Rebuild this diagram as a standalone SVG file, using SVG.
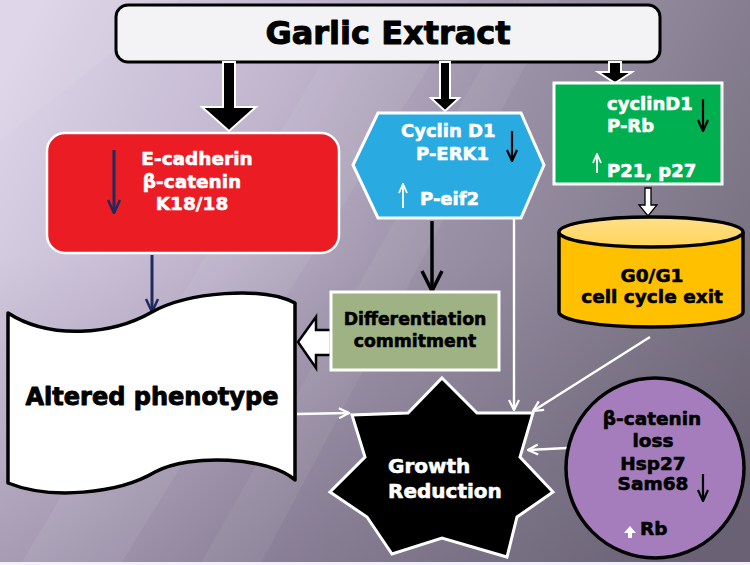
<svg xmlns="http://www.w3.org/2000/svg" width="750" height="565" viewBox="0 0 750 565">
<defs>
<linearGradient id="bg" gradientUnits="userSpaceOnUse" x1="0" y1="80" x2="750" y2="460">
<stop offset="0" stop-color="#ddd4e8"/>
<stop offset="0.3" stop-color="#c0b5cd"/>
<stop offset="0.55" stop-color="#9b91a7"/>
<stop offset="0.8" stop-color="#817a8b"/>
<stop offset="1" stop-color="#6f6878"/>
</linearGradient>
<linearGradient id="shade" x1="0" y1="0" x2="0" y2="1">
<stop offset="0.45" stop-color="#5a4f68" stop-opacity="0"/>
<stop offset="1" stop-color="#5a4f68" stop-opacity="0.28"/>
</linearGradient>
<linearGradient id="cap" x1="0" y1="0" x2="0" y2="1">
<stop offset="0" stop-color="#ffe08a"/>
<stop offset="1" stop-color="#ffd45a"/>
</linearGradient>
<marker id="wv" viewBox="0 0 12 12" refX="11" refY="6" markerWidth="12" markerHeight="12" markerUnits="userSpaceOnUse" orient="auto">
<path d="M1,1 L11,6 L1,11" fill="none" stroke="#fff" stroke-width="2.2"/>
</marker>
<marker id="bv" viewBox="0 0 24 24" refX="22" refY="12" markerWidth="24" markerHeight="24" markerUnits="userSpaceOnUse" orient="auto">
<path d="M2,2 L22,12 L2,22" fill="none" stroke="#000" stroke-width="3.5"/>
</marker>
<marker id="bvs" viewBox="0 0 14 14" refX="13" refY="7" markerWidth="14" markerHeight="14" markerUnits="userSpaceOnUse" orient="auto">
<path d="M2,2 L13,7 L2,12" fill="none" stroke="#000" stroke-width="2.2"/>
</marker>
<marker id="wvs" viewBox="0 0 12 12" refX="11" refY="6" markerWidth="12" markerHeight="12" markerUnits="userSpaceOnUse" orient="auto">
<path d="M2,2 L11,6 L2,10" fill="none" stroke="#fff" stroke-width="1.8"/>
</marker>
<marker id="nv" viewBox="0 0 16 16" refX="15" refY="8" markerWidth="16" markerHeight="16" markerUnits="userSpaceOnUse" orient="auto">
<path d="M2,2 L15,8 L2,14" fill="none" stroke="#1f2a5e" stroke-width="2.5"/>
</marker>
<style>
.t{font-family:"DejaVu Sans","Liberation Sans",Arial,sans-serif;font-weight:bold;stroke-width:0.6;stroke-linejoin:round}
.w{fill:#fff;stroke:#fff}
.k{fill:#000;stroke:#000}
.wl{stroke:#fff;stroke-width:2.4;fill:none}
</style>
</defs>

<rect x="0" y="0" width="750" height="565" fill="url(#bg)"/>
<rect x="0" y="0" width="750" height="565" fill="url(#shade)"/>
<polygon points="360,0 470,0 120,565 20,565" fill="#fff" opacity="0.07"/>
<polygon points="520,0 560,0 260,565 200,565" fill="#fff" opacity="0.06"/>
<polygon points="0,0 180,0 0,140" fill="#fff" opacity="0.06"/>
<rect x="0" y="562" width="750" height="3" fill="#f4f2f6"/>

<g id="garlic">
<rect x="116" y="5" width="544" height="57" rx="12" fill="#f3f3f5" stroke="#000" stroke-width="3"/>
<text class="t k" x="388" y="44" font-size="32" text-anchor="middle" style="stroke-width:1">Garlic Extract</text>
</g>

<g id="connectors">
<polygon points="223,62 235,62 235,107 256,107 229,131 202,107 223,107" fill="#000" stroke="#fff" stroke-width="2"/>
<polygon points="440,62 450,62 450,98 459,98 445,111 431,98 440,98" fill="#000" stroke="#fff" stroke-width="2"/>
<polygon points="609,62 621,62 621,72 632,72 615,83 598,72 609,72" fill="#000" stroke="#fff" stroke-width="2"/>
<line x1="152" y1="255" x2="152" y2="312" stroke="#1f2a5e" stroke-width="3" marker-end="url(#nv)"/>
<line x1="432" y1="221" x2="432" y2="291" stroke="#000" stroke-width="3.5" marker-end="url(#bv)"/>
<polygon points="645,188 651,188 651,205 657,205 648,216 639,205 645,205" fill="#fff" stroke="#000" stroke-width="1.3"/>
<polygon points="298,342 316,317 316,330 331,330 331,355 316,355 316,368" fill="#fff" stroke="#000" stroke-width="2.5"/>
<line x1="514" y1="218" x2="514" y2="410" class="wl" marker-end="url(#wv)"/>
<line x1="650" y1="337" x2="533" y2="411" class="wl" marker-end="url(#wv)"/>
<line x1="297" y1="414" x2="349" y2="413" class="wl" marker-end="url(#wv)"/>
<line x1="567" y1="448" x2="528" y2="450" class="wl" marker-end="url(#wv)"/>
</g>

<g id="red">
<rect x="47" y="133" width="292" height="120" rx="18" fill="#ec1c24" stroke="#fff" stroke-width="2.5"/>
<line x1="114" y1="150" x2="114" y2="213" stroke="#1f2a5e" stroke-width="3" marker-end="url(#nv)"/>
<text class="t w" font-size="18.5" text-anchor="middle"><tspan x="197" y="165">E-cadherin</tspan><tspan x="192" y="188">β-catenin</tspan><tspan x="192" y="210">K18/18</tspan></text>
</g>

<g id="hexagon">
<polygon points="353,165 378,113 521,113 544,165 521,218 378,218" fill="#29abe2" stroke="#fff" stroke-width="3"/>
<text class="t w" font-size="18"><tspan x="401" y="137">Cyclin D1</tspan><tspan x="416" y="160">P-ERK1</tspan><tspan x="420" y="205">P-eif2</tspan></text>
<line x1="512" y1="131" x2="512" y2="161" stroke="#000" stroke-width="2.2" marker-end="url(#bvs)"/>
<line x1="403" y1="208" x2="403" y2="184" stroke="#fff" stroke-width="1.8" marker-end="url(#wvs)"/>
</g>

<g id="green">
<rect x="554" y="83" width="168" height="101" fill="#00b050" stroke="#fff" stroke-width="3"/>
<text class="t w" font-size="18"><tspan x="607" y="110">cyclinD1</tspan><tspan x="607" y="132">P-Rb</tspan><tspan x="607" y="177">P21, p27</tspan></text>
<line x1="703" y1="99" x2="703" y2="131" stroke="#000" stroke-width="2.2" marker-end="url(#bvs)"/>
<line x1="597" y1="173" x2="597" y2="154" stroke="#fff" stroke-width="1.8" marker-end="url(#wvs)"/>
</g>

<g id="cylinder">
<path d="M559,232 L559,312 A92,15 0 0 0 743,312 L743,232" fill="#ffc000" stroke="#000" stroke-width="3.5"/>
<ellipse cx="651" cy="232" rx="92" ry="15" fill="url(#cap)" stroke="#000" stroke-width="3.5"/>
<text class="t k" font-size="18.5" text-anchor="middle"><tspan x="652" y="282">G0/G1</tspan><tspan x="652" y="303">cell cycle exit</tspan></text>
</g>

<g id="differentiation">
<rect x="331" y="292" width="168" height="78" fill="#9fb283" stroke="#fff" stroke-width="3"/>
<text class="t k" font-size="17.3" text-anchor="middle"><tspan x="415" y="325">Differentiation</tspan><tspan x="415" y="347">commitment</tspan></text>
</g>

<g id="phenotype">
<path d="M8,313 C50,340 112,335 152,312 C188,292 262,286 295,303 L295,480 C270,457 190,453 155,472 C118,494 50,500 8,483 Z" fill="#fff" stroke="#000" stroke-width="3.5" stroke-linejoin="round"/>
<text class="t k" x="152" y="405" font-size="24" text-anchor="middle" style="stroke-width:0.9">Altered phenotype</text>
</g>

<g id="star">
<polygon points="442,378 477,413 533,413 520,457 553,492 517,517 507,557 442,538 392,554 367,517 330,492 365,457 352,415 408,413" fill="#000" stroke="#fff" stroke-width="3" stroke-linejoin="miter"/>
<text class="t w" font-size="20"><tspan x="388" y="473">Growth</tspan><tspan x="388" y="498">Reduction</tspan></text>
</g>

<g id="purple">
<ellipse cx="655" cy="468" rx="89" ry="90" fill="#a57dbd" stroke="#000" stroke-width="3.5"/>
<text class="t k" font-size="18.5" text-anchor="middle"><tspan x="652" y="425">β-catenin</tspan><tspan x="653" y="447">loss</tspan><tspan x="653" y="470">Hsp27</tspan><tspan x="653" y="490">Sam68</tspan></text>
<line x1="703" y1="474" x2="703" y2="501" stroke="#000" stroke-width="2.2" marker-end="url(#bvs)"/>
<polygon points="630,526 636,533 632,533 632,538 628,538 628,533 624,533" fill="#fff"/>
<text class="t k" x="640" y="535" font-size="18.5">Rb</text>
</g>
</svg>
